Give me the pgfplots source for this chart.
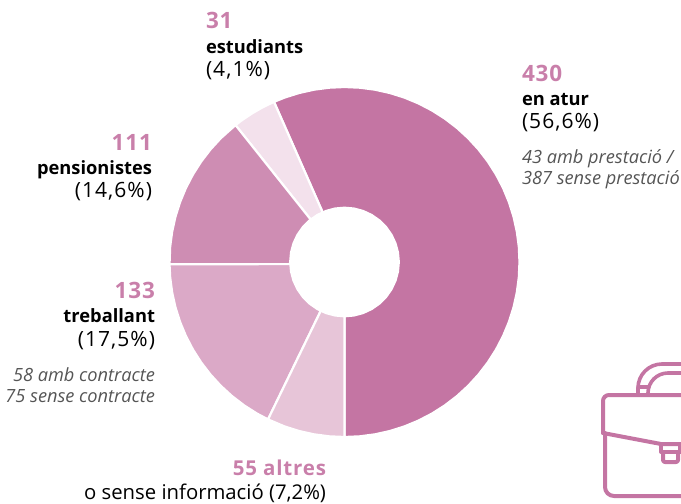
\documentclass[border=0pt]{standalone}
\usepackage{pgfplots}
\pgfplotsset{compat=1.18}
\usepgfplotslibrary{polar}
\usepackage{fontspec}
\setmainfont{Open Sans}
\definecolor{cA}{HTML}{C475A3}
\definecolor{cB}{HTML}{F3E1EC}
\definecolor{cC}{HTML}{CE8DB3}
\definecolor{cD}{HTML}{DBA9C7}
\definecolor{cE}{HTML}{E7C5D8}
\definecolor{cN}{HTML}{C97FAA}
\definecolor{cI}{HTML}{555555}
\newcommand{\num}[1]{{\fontsize{22.5}{22}\selectfont\bfseries\color{cN}\addfontfeature{LetterSpace=4}#1}}
\newcommand{\numb}[1]{{\fontsize{20.5}{20}\selectfont\bfseries\color{cN}\addfontfeature{LetterSpace=4}#1}}
\newcommand{\lab}[1]{{\fontsize{18.3}{18}\selectfont\bfseries\color{black}#1}}
\newcommand{\pct}[1]{{\fontsize{21}{21}\selectfont\color{black}\addfontfeature{LetterSpace=5}#1}}
\newcommand{\pctb}[1]{{\fontsize{20.3}{20}\selectfont\color{black}#1}}
\newcommand{\ita}[1]{{\fontsize{18.2}{18}\selectfont\itshape\color{cI}#1}}
\begin{document}
\begin{tikzpicture}[x=1pt,y=-1pt,inner sep=0pt,outer sep=0pt]
\path[use as bounding box] (0,0) rectangle (681,504);
\begin{polaraxis}[hide axis,scale only axis,width=350pt,height=350pt,
  at={(344.5pt,-262pt)},anchor=center,ymin=0,ymax=175,clip=false,
  every axis plot/.append style={line width=2.2pt,draw=white,line join=round}]
\addplot[fill=cA] coordinates {(-90,0)(-90,175)(-85,175)(-80,175)(-75,175)(-70,175)(-65,175)(-60,175)(-55,175)(-50,175)(-45,175)(-40,175)(-35,175)(-30,175)(-25,175)(-20,175)(-15,175)(-10,175)(-5,175)(0,175)(5,175)(10,175)(15,175)(20,175)(25,175)(30,175)(35,175)(40,175)(45,175)(50,175)(55,175)(60,175)(65,175)(70,175)(75,175)(80,175)(85,175)(90,175)(95,175)(100,175)(105,175)(110,175)(113.76,175)(113.76,0)} -- cycle;
\addplot[fill=cB] coordinates {(113.76,0)(113.76,175)(118,175)(122,175)(126,175)(128.52,175)(128.52,0)} -- cycle;
\addplot[fill=cC] coordinates {(128.52,0)(128.52,175)(135,175)(140,175)(145,175)(150,175)(155,175)(160,175)(165,175)(170,175)(175,175)(180.75,175)(270,2)} -- cycle;
\addplot[fill=cD] coordinates {(270,2)(180.75,175)(185,175)(190,175)(195,175)(200,175)(205,175)(210,175)(215,175)(220,175)(225,175)(230,175)(235,175)(240,175)(244.08,175)(244.08,0)} -- cycle;
\addplot[fill=cE] coordinates {(244.08,0)(244.08,175)(250,175)(255,175)(260,175)(265,175)(270,175)(270,0)} -- cycle;
\addplot[fill=white] coordinates {(0,54.3)(10,54.3)(20,54.3)(30,54.3)(40,54.3)(50,54.3)(60,54.3)(70,54.3)(80,54.3)(90,54.3)(100,54.3)(110,54.3)(120,54.3)(130,54.3)(140,54.3)(150,54.3)(160,54.3)(170,54.3)(180,54.3)(190,54.3)(200,54.3)(210,54.3)(220,54.3)(230,54.3)(240,54.3)(250,54.3)(260,54.3)(270,54.3)(280,54.3)(290,54.3)(300,54.3)(310,54.3)(320,54.3)(330,54.3)(340,54.3)(350,54.3)} -- cycle;
\end{polaraxis}
% labels
\node[anchor=base west] at (206,28) {\num{31}};
\node[anchor=base west] at (206,53) {\lab{estudiants}};
\node[anchor=base west] at (206,76) {\pct{(4,1\%)}};
\node[anchor=base west] at (522,81) {\num{430}};
\node[anchor=base west] at (522,105) {\lab{en atur}};
\node[anchor=base west] at (522,128) {\pct{(56,6\%)}};
\node[anchor=base west] at (522,163) {\ita{43 amb prestació /}};
\node[anchor=base west] at (522,184) {\ita{387 sense prestació}};
\node[anchor=base east] at (152,150) {\num{111}};
\node[anchor=base east] at (152,174) {\lab{pensionistes}};
\node[anchor=base east] at (152,197) {\pct{(14,6\%)}};
\node[anchor=base east] at (155,298) {\num{133}};
\node[anchor=base east] at (155,322.5) {\lab{treballant}};
\node[anchor=base east] at (155,346.5) {\pct{(17,5\%)}};
\node[anchor=base east] at (155,381.5) {\ita{58 amb contracte}};
\node[anchor=base east] at (155,402.5) {\ita{75 sense contracte}};
\node[anchor=base east] at (326,475) {\numb{55 altres}};
\node[anchor=base east] at (326,499) {\pctb{o sense informació (7,2\%)}};
% briefcase icon
\begin{scope}[draw=cA,line width=4pt,line join=round,line cap=round]
\draw[rounded corners=6pt] (700,395) -- (603,395) -- (603,433);
\draw (603,433) -- (661,444) -- (700,444);
\draw[rounded corners=9pt] (605,433) -- (605,496) -- (700,496);
\draw (661,444) -- (661,452) -- (700,452);
\draw[rounded corners=2pt] (663,452) -- (663,462) -- (678,462) -- (678,452);
\draw (680,444) -- (680,452);
\draw[line width=3.6pt,rounded corners=24pt] (638,394) -- (638,364) -- (700,364);
\draw[line width=3.6pt,rounded corners=20pt] (648,394) -- (648,373) -- (700,373);
\draw[line width=3.2pt] (638,387) -- (648,387);
\end{scope}
\end{tikzpicture}
\end{document}
